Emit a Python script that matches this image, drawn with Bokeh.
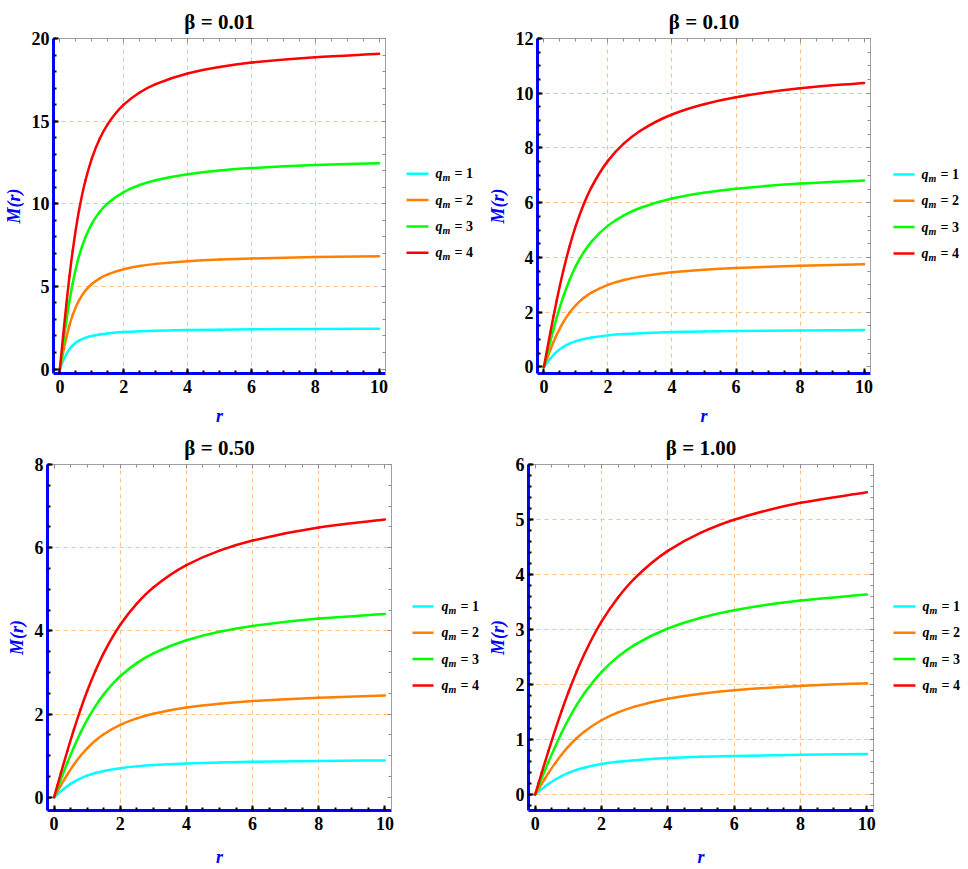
from bokeh.plotting import figure
from bokeh.layouts import column, row
from bokeh.models import (Range1d, LinearAxis, SingleIntervalTicker, FixedTicker,
                          CustomJSTickFormatter)
from bokeh.embed import file_html
from bokeh.resources import INLINE
from bokeh.core.properties import value

# radial sample points shared by every curve
r = [0, 0.1, 0.2, 0.3, 0.4, 0.6, 0.8, 1, 1.25, 1.5, 2, 2.5, 3, 4, 5, 6, 8, 10]

# mass function M(r) for q_m = 1..4, one set per beta
m_b001_q1 = [0, 0.484, 0.892, 1.200, 1.426, 1.717, 1.888, 1.999, 2.092, 2.155, 2.236, 2.285, 2.318, 2.359, 2.384, 2.400, 2.421, 2.434]
m_b001_q2 = [0, 0.984, 1.881, 2.642, 3.263, 4.160, 4.745, 5.144, 5.488, 5.729, 6.041, 6.233, 6.363, 6.527, 6.626, 6.692, 6.775, 6.825]
m_b001_q3 = [0, 1.484, 2.876, 4.117, 5.182, 6.827, 7.973, 8.789, 9.512, 10.029, 10.709, 11.133, 11.422, 11.787, 12.009, 12.157, 12.344, 12.456]
m_b001_q4 = [0, 1.984, 3.874, 5.603, 7.134, 9.602, 11.407, 12.736, 13.944, 14.822, 15.995, 16.735, 17.241, 17.886, 18.278, 18.541, 18.871, 19.070]

m_b010_q1 = [0, 0.156, 0.304, 0.436, 0.550, 0.727, 0.852, 0.941, 1.021, 1.078, 1.153, 1.200, 1.232, 1.272, 1.297, 1.314, 1.334, 1.347]
m_b010_q2 = [0, 0.315, 0.620, 0.907, 1.172, 1.625, 1.983, 2.261, 2.525, 2.724, 2.999, 3.176, 3.299, 3.457, 3.554, 3.619, 3.701, 3.751]
m_b010_q3 = [0, 0.473, 0.936, 1.380, 1.800, 2.551, 3.177, 3.690, 4.199, 4.597, 5.163, 5.541, 5.807, 6.154, 6.368, 6.514, 6.698, 6.809]
m_b010_q4 = [0, 0.631, 1.252, 1.854, 2.431, 3.486, 4.398, 5.170, 5.962, 6.597, 7.529, 8.166, 8.622, 9.224, 9.599, 9.855, 10.180, 10.377]

m_b050_q1 = [0, 0.070, 0.139, 0.204, 0.264, 0.369, 0.452, 0.518, 0.582, 0.630, 0.697, 0.741, 0.772, 0.811, 0.835, 0.851, 0.872, 0.884]
m_b050_q2 = [0, 0.141, 0.280, 0.416, 0.546, 0.786, 0.996, 1.176, 1.363, 1.514, 1.740, 1.895, 2.007, 2.156, 2.249, 2.313, 2.394, 2.443]
m_b050_q3 = [0, 0.212, 0.422, 0.628, 0.828, 1.207, 1.552, 1.859, 2.191, 2.472, 2.909, 3.223, 3.457, 3.774, 3.977, 4.117, 4.297, 4.406]
m_b050_q4 = [0, 0.283, 0.563, 0.840, 1.111, 1.630, 2.112, 2.552, 3.040, 3.465, 4.146, 4.655, 5.042, 5.579, 5.929, 6.172, 6.486, 6.679]

m_b100_q1 = [0, 0.050, 0.099, 0.146, 0.190, 0.270, 0.337, 0.393, 0.448, 0.491, 0.554, 0.595, 0.625, 0.663, 0.687, 0.703, 0.723, 0.736]
m_b100_q2 = [0, 0.100, 0.199, 0.296, 0.390, 0.567, 0.728, 0.870, 1.024, 1.152, 1.351, 1.493, 1.598, 1.741, 1.832, 1.894, 1.974, 2.023]
m_b100_q3 = [0, 0.150, 0.299, 0.446, 0.590, 0.866, 1.124, 1.360, 1.624, 1.854, 2.227, 2.507, 2.721, 3.019, 3.215, 3.351, 3.527, 3.636]
m_b100_q4 = [0, 0.200, 0.399, 0.596, 0.790, 1.166, 1.522, 1.855, 2.234, 2.574, 3.142, 3.584, 3.931, 4.429, 4.761, 4.996, 5.303, 5.494]

betas = ["0.01", "0.10", "0.50", "1.00"]
qm_values = ["1", "2", "3", "4"]
colors = ["#00FFFF", "#FF8000", "#00FF00", "#FF0000"]

series = [
    [m_b001_q1, m_b001_q2, m_b001_q3, m_b001_q4],
    [m_b010_q1, m_b010_q2, m_b010_q3, m_b010_q4],
    [m_b050_q1, m_b050_q2, m_b050_q3, m_b050_q4],
    [m_b100_q1, m_b100_q2, m_b100_q3, m_b100_q4],
]

# per-panel layout: plot canvas, borders, y range, ticks, grid rows, x-label gap;
# legend strip to the right of each plot (pixel coordinates inside the row)
panels = [
    dict(w=393, h=428, bl=52, br=8, bt=38, bb=55, y0=-0.27, y1=20, yint=5, ymin=5,
         ygrid=[5, 10, 15], xls=10,
         lw=91, lx0=13, lx1=35, tx=42, rows=[173.3, 199.6, 225.9, 252.2]),
    dict(w=394, h=428, bl=49, br=8, bt=38, bb=55, y0=-0.24, y1=12, yint=2, ymin=4,
         ygrid=[2, 4, 6, 8, 10], xls=10,
         lw=90, lx0=15, lx1=36, tx=43, rows=[174, 200.3, 226.6, 252.9]),
    dict(w=399, h=441, bl=47, br=8, bt=36, bb=59, y0=-0.32, y1=8, yint=2, ymin=4,
         ygrid=[2, 4, 6], xls=14,
         lw=85, lx0=13, lx1=34, tx=42, rows=[178, 204.3, 230.6, 256.9]),
    dict(w=397, h=441, bl=44, br=8, bt=36, bb=59, y0=-0.29, y1=6, yint=1, ymin=5,
         ygrid=[0, 1, 2, 3, 4, 5], xls=14,
         lw=87, lx0=12, lx1=34, tx=41, rows=[178, 204.3, 230.6, 256.9]),
]

SERIF = "Liberation Serif"
blank = CustomJSTickFormatter(code="return ''")


def bezier_pieces(x, y):
    """Monotone cubic (PCHIP-style) pieces through the points, as Bezier controls."""
    n = len(x)
    h = [x[i + 1] - x[i] for i in range(n - 1)]
    d = [(y[i + 1] - y[i]) / h[i] for i in range(n - 1)]
    m = [0.0] * n
    m[0], m[-1] = d[0], d[-1]
    for i in range(1, n - 1):
        if d[i - 1] * d[i] <= 0:
            m[i] = 0.0
        else:
            w1 = 2 * h[i] + h[i - 1]
            w2 = h[i] + 2 * h[i - 1]
            m[i] = (w1 + w2) / (w1 / d[i - 1] + w2 / d[i])
    return dict(
        x0=x[:-1], y0=y[:-1], x1=x[1:], y1=y[1:],
        cx0=[x[i] + h[i] / 3 for i in range(n - 1)],
        cy0=[y[i] + m[i] * h[i] / 3 for i in range(n - 1)],
        cx1=[x[i + 1] - h[i] / 3 for i in range(n - 1)],
        cy1=[y[i + 1] - m[i + 1] * h[i] / 3 for i in range(n - 1)],
    )


def make_panel(beta, curves, cfg):
    p = figure(width=cfg["w"], height=cfg["h"], output_backend="svg", toolbar_location=None,
               x_range=Range1d(-0.2, 10.2), y_range=Range1d(cfg["y0"], cfg["y1"]),
               min_border_left=cfg["bl"], min_border_right=cfg["br"],
               min_border_top=cfg["bt"], min_border_bottom=cfg["bb"],
               title="\u03b2 = " + beta)
    p.outline_line_color = None
    p.background_fill_color = "white"
    p.border_fill_color = "white"

    p.title.align = "center"
    p.title.text_font = SERIF
    p.title.text_font_size = "21px"
    p.title.text_font_style = "bold"
    p.title.text_color = "black"
    p.title.standoff = 9

    xt = SingleIntervalTicker(interval=2, num_minor_ticks=4)
    yt = SingleIntervalTicker(interval=cfg["yint"], num_minor_ticks=cfg["ymin"])

    for ax, tk, lab in ((p.xaxis[0], xt, "r"), (p.yaxis[0], yt, "M(r)")):
        ax.ticker = tk
        ax.axis_line_color = "#0000FF"
        ax.axis_line_width = 3
        ax.major_tick_in = 5
        ax.major_tick_out = 0
        ax.minor_tick_in = 3
        ax.minor_tick_out = 0
        ax.major_tick_line_color = "black"
        ax.minor_tick_line_color = "black"
        ax.major_tick_line_width = 2
        ax.minor_tick_line_width = 2
        ax.major_label_text_font = SERIF
        ax.major_label_text_font_style = "bold"
        ax.major_label_text_font_size = "18px"
        ax.major_label_text_color = "black"
        ax.axis_label = lab
        ax.axis_label_text_font = SERIF
        ax.axis_label_text_font_style = "bold italic"
        ax.axis_label_text_font_size = "18px"
        ax.axis_label_text_color = "#0000FF"
    p.xaxis[0].major_label_standoff = 6
    p.xaxis[0].axis_label_standoff = cfg["xls"]
    p.yaxis[0].major_label_standoff = 4
    p.yaxis[0].axis_label_standoff = 5

    # plain frame on the top and right with inward ticks
    for side, tk in (("above", xt), ("right", yt)):
        ax = LinearAxis(ticker=tk, formatter=blank,
                        axis_line_color="#A0A0A0", axis_line_width=1,
                        major_tick_in=4, major_tick_out=0,
                        minor_tick_in=3, minor_tick_out=0,
                        major_tick_line_color="#8C8C8C", minor_tick_line_color="#8C8C8C",
                        major_label_text_font_size="1px", major_label_standoff=0)
        p.add_layout(ax, side)

    p.xgrid.ticker = FixedTicker(ticks=[2, 4, 6, 8])
    p.ygrid.ticker = FixedTicker(ticks=cfg["ygrid"])
    for g in (p.xgrid, p.ygrid):
        g.grid_line_color = "#FFBE80"
        g.grid_line_dash = "4 4"
        g.grid_line_width = 1

    for vals, col in zip(curves, colors):
        b = bezier_pieces(r, vals)
        p.bezier(line_color=col, line_width=2.5, line_cap="round", **b)
    return p


def make_legend(cfg):
    # the strip's frame is aligned with its neighbour's frame, so its y range
    # spans that frame in row pixel coordinates (top -> bottom)
    lg = figure(width=cfg["lw"], height=cfg["h"], output_backend="svg", toolbar_location=None,
                x_range=Range1d(0, cfg["lw"]),
                y_range=Range1d(cfg["h"] - cfg["bb"], cfg["bt"]),
                x_axis_location=None, y_axis_location=None,
                min_border_left=0, min_border_right=0,
                min_border_top=cfg["bt"], min_border_bottom=cfg["bb"])
    lg.grid.visible = False
    lg.outline_line_color = None
    lg.background_fill_color = "white"
    lg.border_fill_color = "white"
    rows = cfg["rows"]
    n = len(rows)
    lg.segment(x0=[cfg["lx0"]] * n, y0=rows, x1=[cfg["lx1"]] * n, y1=rows,
               line_color=colors, line_width=2.5)
    lg.text(x=[cfg["tx"]] * n, y=rows, text=["q"] * n,
            text_font=value(SERIF), text_font_style="bold italic",
            text_font_size=value("14px"), text_baseline="middle", text_color="black")
    lg.text(x=[cfg["tx"] + 7] * n, y=[v + 4 for v in rows], text=["m"] * n,
            text_font=value(SERIF), text_font_style="bold italic",
            text_font_size=value("10px"), text_baseline="middle", text_color="black")
    lg.text(x=[cfg["tx"] + 19] * n, y=rows, text=["= " + q for q in qm_values],
            text_font=value(SERIF), text_font_style="bold",
            text_font_size=value("14px"), text_baseline="middle", text_color="black")
    return lg


figs = [make_panel(b, s, c) for b, s, c in zip(betas, series, panels)]
legs = [make_legend(c) for c in panels]
layout = column(row(figs[0], legs[0], figs[1], legs[1]),
                row(figs[2], legs[2], figs[3], legs[3]))

open("out.html", "w").write(file_html(layout, INLINE))
